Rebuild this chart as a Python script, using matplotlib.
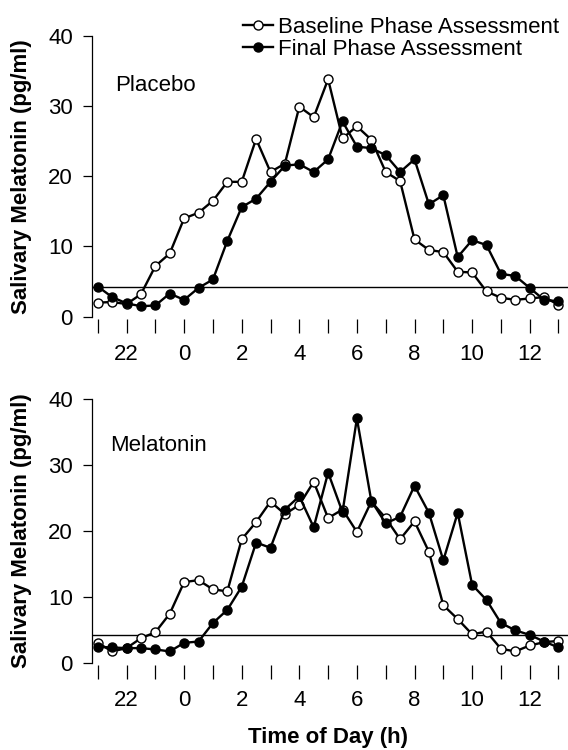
import numpy as np
from matplotlib import pyplot as plt

plt.rcParams['font.family'] = ['Liberation Sans', 'DejaVu Sans']

# half-hourly samples, clock hours (24 = midnight)
times = [21, 21.5, 22, 22.5, 23, 23.5, 24, 24.5, 25, 25.5, 26, 26.5, 27, 27.5,
         28, 28.5, 29, 29.5, 30, 30.5, 31, 31.5, 32, 32.5, 33, 33.5, 34, 34.5,
         35, 35.5, 36, 36.5, 37]
tick_hours = [21, 22, 23, 24, 25, 26, 27, 28, 29, 30, 31, 32, 33, 34, 35, 36, 37]
tick_labels = ['', '22', '', '0', '', '2', '', '4', '', '6', '', '8', '', '10', '', '12', '']

placebo_baseline = [2.0, 2.1, 1.8, 3.2, 7.2, 9.0, 14.0, 14.8, 16.5, 19.2, 19.2,
                    25.3, 20.6, 21.8, 29.9, 28.4, 33.8, 25.4, 27.1, 25.2, 20.6,
                    19.3, 11.0, 9.5, 9.2, 6.4, 6.3, 3.6, 2.7, 2.4, 2.6, 2.8, 1.7]
placebo_final = [4.3, 2.8, 1.9, 1.5, 1.6, 3.3, 2.4, 4.1, 5.3, 10.8, 15.6, 16.8,
                 19.2, 21.5, 21.7, 20.6, 22.4, 27.8, 24.2, 24.0, 23.0, 20.6, 22.4,
                 16.0, 17.3, 8.5, 10.9, 10.2, 6.1, 5.8, 4.1, 2.4, 2.2]

melatonin_baseline = [3.1, 1.8, 2.3, 3.8, 4.7, 7.5, 12.3, 12.6, 11.2, 10.9, 18.8,
                      21.4, 24.5, 22.6, 24.0, 27.5, 22.0, 23.3, 19.9, 24.5, 22.0,
                      18.8, 21.5, 16.9, 8.8, 6.7, 4.4, 4.8, 2.2, 1.8, 2.7, 3.2, 3.4]
melatonin_final = [2.5, 2.4, 2.3, 2.3, 2.1, 1.8, 3.1, 3.3, 6.1, 8.1, 11.6, 18.3,
                   17.5, 23.3, 25.3, 20.6, 28.9, 22.9, 37.1, 24.6, 21.2, 22.2, 26.9,
                   22.8, 15.6, 22.8, 11.9, 9.6, 6.1, 5.0, 4.3, 3.3, 2.4]

threshold = 4.3
fs = 16

fig = plt.figure(figsize=(5.68, 7.5), dpi=100)
ax_top = fig.add_axes([0.1614, 0.5777, 0.8386, 0.3747])
ax_bot = fig.add_axes([0.1614, 0.1156, 0.8386, 0.3520])

panels = [(ax_top, placebo_baseline, placebo_final, 'Placebo', 0.049),
          (ax_bot, melatonin_baseline, melatonin_final, 'Melatonin', 0.038)]

for ax, base, final, name, tx in panels:
    ax.axhline(threshold, color='black', lw=1.0, zorder=1)
    ax.plot(times, base, '-o', color='black', lw=1.7, ms=6.5,
            mfc='white', mec='black', mew=1.0, zorder=2,
            label='Baseline Phase Assessment')
    ax.plot(times, final, '-o', color='black', lw=1.7, ms=6.5,
            mfc='black', mec='black', zorder=3,
            label='Final Phase Assessment')
    ax.set_xlim(20.79, 37.33)
    ax.set_ylim(0, 40)
    ax.set_yticks([0, 10, 20, 30, 40])
    ax.set_xticks(tick_hours)
    ax.set_xticklabels(tick_labels)
    for s in ['top', 'right', 'bottom']:
        ax.spines[s].set_visible(False)
    ax.spines['bottom'].set_position(('outward', 1.5))
    ax.spines['left'].set_linewidth(0.9)
    ax.tick_params(axis='y', direction='out', length=6.5, width=0.9, pad=7, labelsize=fs)
    ax.tick_params(axis='x', direction='out', length=10, width=0.9, pad=8, labelsize=fs)
    ax.text(tx, 0.824, name, transform=ax.transAxes, fontsize=fs, va='center', ha='left')

fig.text(22 / 568, 0.765, 'Salivary Melatonin (pg/ml)', rotation=90,
         ha='center', va='center', fontsize=fs, fontweight='bold')
fig.text(22 / 568, 0.292, 'Salivary Melatonin (pg/ml)', rotation=90,
         ha='center', va='center', fontsize=fs, fontweight='bold')
fig.text(328 / 568, 1 - 738 / 750, 'Time of Day (h)', ha='center', va='center',
         fontsize=fs, fontweight='bold')

handles, labels = ax_top.get_legend_handles_labels()
fig.legend(handles, labels, loc='upper left', bbox_to_anchor=(243 / 568, 1 - 17 / 750),
           frameon=False, fontsize=fs, handlelength=1.35, handletextpad=0.22,
           borderpad=0, borderaxespad=0, labelspacing=0.05)

fig.savefig('out.png', dpi=100)
